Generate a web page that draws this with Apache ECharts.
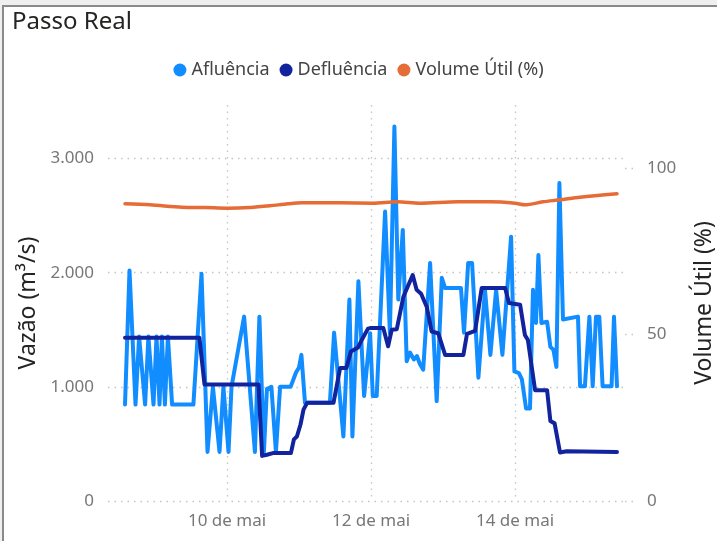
<!DOCTYPE html>
<html lang="pt">
<head>
    <meta charset="UTF-8">
    <script src="https://cdn.jsdelivr.net/npm/echarts@6/dist/echarts.min.js"></script>
    <title>Passo Real</title>
    <style>
        body { margin: 0; background: #efefef; overflow: hidden; }
        #frame { position: absolute; left: 2px; top: 5px; width: 730px; height: 550px;
                 background: #fff; border-left: 2px solid #8a8a8a; border-top: 2px solid #8a8a8a; }
        #chart { position: absolute; left: 0; top: 0; width: 717px; height: 541px; }
    </style>
</head>
<body>
    <div id="frame"></div>
    <div id="chart"></div>
    <script type="text/javascript">
        // x = horas desde 08/mai 00h
        var dayTicks = [48, 96, 144];
        var vazaoTicks = [0, 1000, 2000, 3000];
        var volumeTicks = [0, 50, 100];

        var afluencia = [
            [14, 845], [15.5, 2020], [17.5, 845], [18.7, 1440], [20.7, 845], [21.8, 1440],
            [23.5, 845], [24.5, 1440], [25.5, 845], [26.3, 1440], [27.3, 845], [28.3, 1440],
            [29.7, 845], [36.8, 845], [39.5, 1990], [41.5, 430], [43.3, 1000], [45.5, 430],
            [46.8, 1000], [48.5, 430], [49.5, 1000], [53.7, 1615], [57.3, 430], [58.8, 1615],
            [60.3, 430], [61.3, 980], [62.8, 1000], [64.3, 430], [65.7, 1000], [69.2, 1000],
            [71, 1125], [72, 1170], [72.8, 1280], [74, 860], [82.3, 860], [83.7, 1475],
            [86.8, 565], [88.8, 1765], [89.8, 565], [91.8, 1925], [93.7, 920], [95.7, 1470],
            [96.6, 920], [97.9, 920], [100.7, 2535], [102.3, 1470], [103.8, 3280], [105.1, 1765],
            [106.6, 2375], [107.9, 1225], [109, 1300], [110.3, 1240], [111.3, 1270], [112.3, 1200],
            [113.4, 1150], [115.7, 2085], [117.9, 875], [119.6, 1955], [120.7, 1865], [126, 1865],
            [127, 1475], [128.4, 2085], [129.7, 2085], [131.8, 1080], [134, 1850], [135.8, 1280],
            [137.7, 1850], [139.8, 1280], [142.7, 2315], [143.8, 1135], [145.3, 1120], [146.3, 1065],
            [147.7, 810], [149, 810], [150, 1850], [151, 1560], [151.8, 2155], [152.8, 1560],
            [154.7, 1570], [155.8, 1350], [156.8, 1325], [157.8, 1175], [158.8, 2785], [160, 1590],
            [165, 1615], [165.7, 1005], [167.3, 1005], [168.8, 1615], [169.9, 1005], [171, 1615],
            [172.1, 1615], [173.2, 1005], [176.2, 1005], [177, 1615], [178, 1005]
        ];

        var defluencia = [
            [14, 1430], [38.8, 1430], [40.5, 1020], [58.5, 1020], [59.7, 395], [61.3, 405],
            [63.3, 420], [69.3, 420], [70.3, 540], [71.3, 565], [72.5, 670], [73.5, 800],
            [74.7, 860], [83.5, 860], [85.7, 1165], [87.8, 1165], [89.3, 1310], [91.7, 1345],
            [93, 1415], [95, 1510], [95.7, 1515], [100.1, 1515], [101.7, 1355], [102.9, 1500],
            [104.6, 1505], [106.8, 1790], [109.9, 1980], [111.2, 1850], [112.7, 1815], [114.6, 1700],
            [116.2, 1485], [118.4, 1470], [120.7, 1280], [126.8, 1280], [128, 1465], [130.7, 1490],
            [132.9, 1865], [140.7, 1865], [142, 1735], [145.7, 1720], [147.3, 1455], [148.3, 1410],
            [150.7, 970], [154.7, 970], [155.8, 700], [157.2, 680], [159, 425], [161.2, 435],
            [178, 430]
        ];

        var volumeUtil = [
            [14, 89.3], [22.3, 89.0], [33, 88.3], [40.7, 88.2], [48, 88.0], [55.7, 88.2],
            [62.3, 88.7], [68.3, 89.3], [73, 89.6], [85.7, 89.6], [96.7, 89.5], [104.7, 89.9],
            [112.3, 89.5], [125, 89.9], [135.7, 89.9], [144, 89.5], [147.3, 89.0], [153.3, 89.9],
            [159, 90.5], [165.7, 91.3], [178, 92.3]
        ];

        var fontFam = '"Noto Sans", "DejaVu Sans", sans-serif';
        var gridDots = { color: '#c4c4c4', width: 1.3, type: [1.5, 5] };

        var chart = echarts.init(document.getElementById('chart'));
        var option = {
            animation: false,
            backgroundColor: 'transparent',
            title: {
                text: 'Passo Real',
                left: 7, top: 5,
                textStyle: { fontFamily: fontFam, fontSize: 24, fontWeight: 'normal', color: '#252423' }
            },
            legend: {
                top: 56,
                left: 'center',
                icon: 'circle',
                itemWidth: 13, itemHeight: 13,
                itemGap: 10,
                textStyle: { fontFamily: fontFam, fontSize: 18, color: '#444' },
                data: ['Afluência', 'Defluência', 'Volume Útil (%)']
            },
            grid: { left: 108, right: 92, top: 105, bottom: 40, outerBoundsMode: 'none', containLabel: false },
            xAxis: {
                type: 'value',
                min: 8.33, max: 180.67,
                axisLine: { show: false },
                axisTick: { show: false, customValues: dayTicks },
                axisLabel: {
                    customValues: dayTicks,
                    margin: 12,
                    fontFamily: fontFam, fontSize: 17, color: '#777',
                    formatter: function (h) { return (8 + h / 24) + ' de mai'; }
                },
                splitLine: { show: true, lineStyle: gridDots }
            },
            yAxis: [
                {
                    type: 'value',
                    min: 0, max: 3469,
                    name: 'Vazão (m³/s)',
                    nameLocation: 'middle',
                    nameRotate: 90,
                    nameGap: 66,
                    nameTextStyle: { fontFamily: fontFam, fontSize: 23, color: '#252423' },
                    axisLine: { show: false },
                    axisTick: { show: false, customValues: vazaoTicks },
                    axisLabel: {
                        customValues: vazaoTicks,
                        margin: 14,
                        fontFamily: fontFam, fontSize: 17, color: '#777',
                        formatter: function (v) { return v === 0 ? '0' : (v / 1000) + '.000'; }
                    },
                    splitLine: { show: true, lineStyle: gridDots }
                },
                {
                    type: 'value',
                    min: 0, max: 119,
                    name: 'Volume Útil (%)',
                    nameLocation: 'middle',
                    nameRotate: 90,
                    nameGap: 68,
                    nameTextStyle: { fontFamily: fontFam, fontSize: 23, color: '#252423' },
                    axisLine: { show: false },
                    axisTick: { show: true, customValues: volumeTicks, length: 9, lineStyle: gridDots },
                    axisLabel: {
                        customValues: volumeTicks,
                        margin: 22,
                        fontFamily: fontFam, fontSize: 17, color: '#777'
                    },
                    splitLine: { show: false }
                }
            ],
            series: [
                {
                    name: 'Afluência', type: 'line', yAxisIndex: 0,
                    data: afluencia, showSymbol: false, clip: false, z: 2,
                    itemStyle: { color: '#118DFF' },
                    lineStyle: { color: '#118DFF', width: 4, join: 'round', cap: 'round' }
                },
                {
                    name: 'Defluência', type: 'line', yAxisIndex: 0,
                    data: defluencia, showSymbol: false, clip: false, z: 3,
                    itemStyle: { color: '#12239E' },
                    lineStyle: { color: '#12239E', width: 4, join: 'round', cap: 'round' }
                },
                {
                    name: 'Volume Útil (%)', type: 'line', yAxisIndex: 1,
                    data: volumeUtil, showSymbol: false, clip: false, z: 4, smooth: 0.3,
                    itemStyle: { color: '#E66C37' },
                    lineStyle: { color: '#E66C37', width: 3.5, cap: 'round' }
                }
            ]
        };
        chart.setOption(option);
    </script>
</body>
</html>
